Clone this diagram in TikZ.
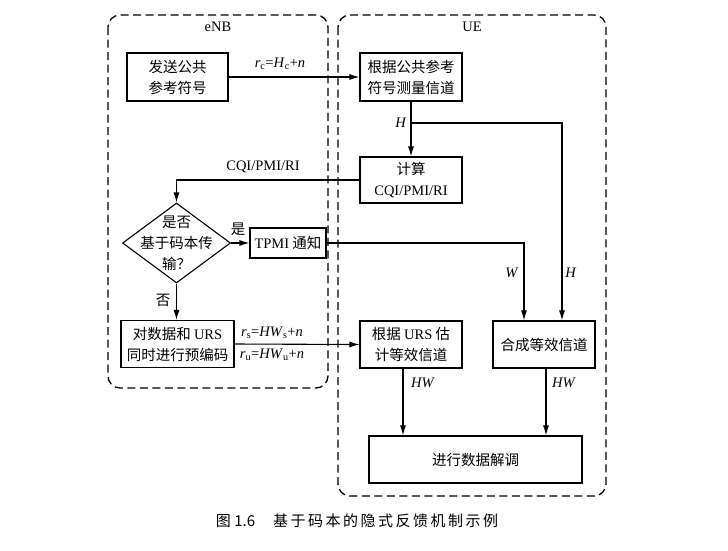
\documentclass[tikz,border=0pt]{standalone}
\usepackage{fontspec}
\setmainfont{Liberation Serif}
\newfontfamily\cjk{Noto Sans CJK SC}
\usetikzlibrary{arrows.meta,shapes.geometric}
\tikzset{
  blk/.style={draw, line width=1.1pt, align=center, inner sep=0pt,
    font=\cjk\fontsize{14.5}{21}\selectfont},
  arr/.style={line width=1.1pt, -{Latex[length=10pt,width=6pt]}},
  lbl/.style={font=\fontsize{14.5}{16}\selectfont, inner sep=1pt},
  clbl/.style={font=\cjk\fontsize{14.5}{16}\selectfont, inner sep=1pt},
  grp/.style={draw, line width=1.3pt, dash pattern=on 8pt off 4.5pt, rounded corners=12pt},
}
\begin{document}
\begin{tikzpicture}[x=1pt,y=-1pt]
\useasboundingbox (0,0) rectangle (728,550);
% groups
\draw[grp] (108,15) rectangle (328,388);
\draw[grp] (338,15) rectangle (606,496);
\node[lbl] (enb) at (218,27) {eNB};
\node[lbl] (ue) at (472,27) {UE};
% blocks
\node[blk, minimum width=101, minimum height=48] (b1) at (177.5,77) {发送公共\\参考符号};
\node[blk, minimum width=102, minimum height=48] (b2) at (411,77) {根据公共参考\\符号测量信道};
\node[blk, minimum width=102, minimum height=46] (b3) at (411,180) {计算\\\textrm{CQI/PMI/RI}};
\node[draw, diamond, line width=1.1pt, minimum width=108, minimum height=80, inner sep=0pt] (dia) at (176.5,243) {};
\node[blk, draw=none] (diat) at (176.5,243) {是否\\基于码本传\\输？};
\node[blk, minimum width=76, minimum height=30] (tp) at (288,243) {\textrm{TPMI} 通知};
\node[blk, minimum width=113, minimum height=47] (pre) at (177.5,344) {对数据和 \textrm{URS}\\同时进行预编码};
\node[blk, minimum width=102, minimum height=47] (urs) at (411,344.5) {根据 \textrm{URS} 估\\计等效信道};
\node[blk, minimum width=102, minimum height=47] (he) at (544,344.5) {合成等效信道};
\node[blk, minimum width=213, minimum height=47] (dm) at (475.5,459.5) {进行数据解调};
% connectors
\draw[arr] (b1.east) -- (b2.west);
\draw[arr] (b2.south) -- (b3.north);
\coordinate (hb) at (411,123);
\draw[arr] (hb) -| ([xshift=18pt]he.north);
\draw[arr] (b3.west) -| (dia.north);
\draw[arr] (dia.east) -- (tp.west);
\draw[arr] (tp.east) -| ([xshift=-20pt]he.north);
\draw[arr] (dia.south) -- (dia.south |- pre.north);
\draw[arr] (pre.east) -- (urs.west);
\draw[arr] ([xshift=-8pt]urs.south) -- ([xshift=-8pt]urs.south |- dm.north);
\draw[arr] ([xshift=2pt]he.south) -- ([xshift=2pt]he.south |- dm.north);
% labels
\node[lbl] (l1) at (280,64) {\textit{r}\textsubscript{c}=\textit{H}\textsubscript{c}+\textit{n}};
\node[lbl] (l2) at (401,123) {\textit{H}};
\node[lbl] (l3) at (263,167) {CQI/PMI/RI};
\node[clbl] (l4) at (238,229) {是};
\node[clbl] (l5) at (163,300) {否};
\node[lbl] (l6) at (272,333) {\textit{r}\textsubscript{s}=\textit{HW}\textsubscript{s}+\textit{n}};
\node[lbl] (l7) at (272,355) {\textit{r}\textsubscript{u}=\textit{HW}\textsubscript{u}+\textit{n}};
\node[lbl] (l8) at (512,273) {\textit{W}};
\node[lbl] (l9) at (571,273) {\textit{H}};
\node[lbl] (l10) at (423,383) {\textit{HW}};
\node[lbl] (l11) at (564,383) {\textit{HW}};
% caption
\node[font=\cjk\fontsize{15}{17}\selectfont, inner sep=0pt] (cap) at (357,521) {图 1.6\hspace{1.2em}基\,于\,码\,本\,的\,隐\,式\,反\,馈\,机\,制\,示\,例};
\end{tikzpicture}
\end{document}
